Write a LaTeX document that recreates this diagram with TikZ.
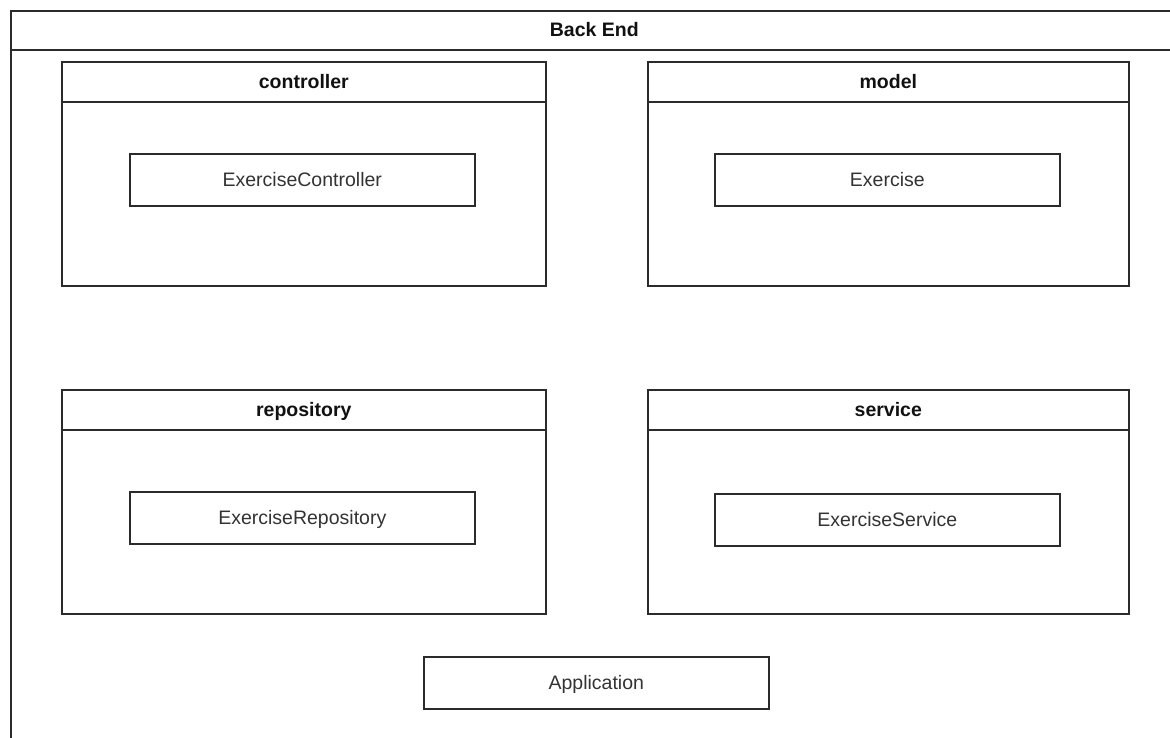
\documentclass[tikz,border=0pt]{standalone}
\usepackage{fontspec}
\setmainfont{Liberation Sans}
\definecolor{edge}{HTML}{2B2B2B}
\definecolor{ink}{HTML}{333333}
\definecolor{headink}{HTML}{111111}
\tikzset{
  frame/.style={draw=edge, line width=1.6pt, fill=white, rectangle, anchor=north west, inner sep=0pt,
    text height=14pt, text depth=1pt},
  headbox/.style={frame, font=\fontsize{19.5}{22}\selectfont\bfseries, text=headink},
  classbox/.style={frame, minimum width=345pt, minimum height=52pt, font=\fontsize{19.5}{22}\selectfont, text=ink},
}
\begin{document}
\begin{tikzpicture}[x=1pt,y=-1pt]
  \useasboundingbox (0,0) rectangle (1170,738);
  \fill[white] (0,0) rectangle (1170,738);
  \clip (0,0) rectangle (1170,738);

  % outer container, runs past the right and bottom edges
  \node[frame, minimum width=1167pt, minimum height=760pt] (backend) at (10,10) {};
  \node[headbox, minimum width=1167pt, minimum height=39pt] (backendh) at (10,10) {Back End};

  % packages
  \node[frame, minimum width=484pt, minimum height=224pt] (ctrl) at (61,61) {};
  \node[headbox, minimum width=484pt, minimum height=40pt] (ctrlh) at (61,61) {controller};

  \node[frame, minimum width=481pt, minimum height=224pt] (model) at (647,61) {};
  \node[headbox, minimum width=481pt, minimum height=40pt] (modelh) at (647,61) {model};

  \node[frame, minimum width=484pt, minimum height=224pt] (repo) at (61,389) {};
  \node[headbox, minimum width=484pt, minimum height=40pt] (repoh) at (61,389) {repository};

  \node[frame, minimum width=481pt, minimum height=224pt] (serv) at (647,389) {};
  \node[headbox, minimum width=481pt, minimum height=40pt] (servh) at (647,389) {service};

  % classes
  \node[classbox] (exctrl) at (129,153) {ExerciseController};
  \node[classbox] (exmodel) at (714,153) {Exercise};
  \node[classbox] (exrepo) at (129,491) {ExerciseRepository};
  \node[classbox] (exserv) at (714,493) {ExerciseService};
  \node[classbox] (app) at (423,656) {Application};
\end{tikzpicture}
\end{document}
